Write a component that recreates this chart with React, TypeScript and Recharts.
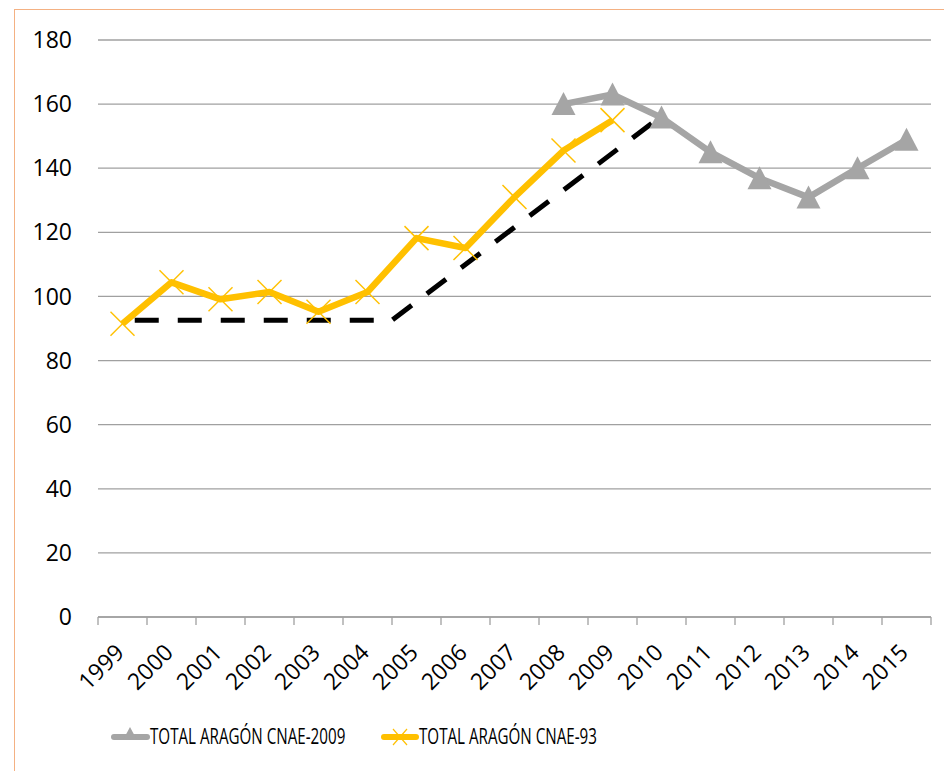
import React from 'react';
import { LineChart, Line, XAxis, YAxis, CartesianGrid, Legend } from 'recharts';

const years = ['1999', '2000', '2001', '2002', '2003', '2004', '2005', '2006', '2007', '2008', '2009', '2010', '2011', '2012', '2013', '2014', '2015'];
const cnae93 = [91.5, 104.4, 99.1, 101.4, 95.2, 101.4, 118.2, 115.1, 131, 145.5, 155, null, null, null, null, null, null];
const cnae2009 = [null, null, null, null, null, null, null, null, null, 160, 163, 155.8, 145, 136.9, 130.9, 140, 148.9];
// hand drawn trend line (x in category units, 0 = left edge of 1999)
const trendX = [0.75, 6, 11.3];
const trendY = [92.6, 92.6, 154];
const yTicks = [0, 20, 40, 60, 80, 100, 120, 140, 160, 180];
const seriesNames = ['TOTAL ARAGÓN CNAE-2009', 'TOTAL ARAGÓN CNAE-93'];

const GRAY = '#A5A5A5';
const GOLD = '#FFC000';
const AXIS = '#A0A0A0';
const W = 944;
const H = 771;
const PLOT_L = 98;
const PLOT_R = 931;
const BAND = (PLOT_R - PLOT_L) / years.length;
const FONT = "'Open Sans', sans-serif";

const data = years.map((y, i) => ({ x: i + 0.5, year: y, cnae93: cnae93[i], cnae2009: cnae2009[i] }));
const trend = trendX.map((x, i) => ({ x, trend: trendY[i] }));
const xTicks = years.map((_, i) => i).concat([years.length]);

const Triangle = (props: any) => {
    const { cx, cy, index } = props;
    if (cx == null || cy == null || props.value == null) return <g key={index} />;
    return <polygon key={index} points={`${cx},${cy - 12} ${cx - 12},${cy + 11} ${cx + 12},${cy + 11}`} fill={GRAY} />;
};

const Cross = (props: any) => {
    const { cx, cy, index } = props;
    if (cx == null || cy == null || props.value == null) return <g key={index} />;
    return (
        <g key={index} stroke={GOLD} strokeWidth={1.5}>
            <line x1={cx - 12} y1={cy - 12} x2={cx + 12} y2={cy + 12} />
            <line x1={cx - 12} y1={cy + 12} x2={cx + 12} y2={cy - 12} />
        </g>
    );
};

const YearTick = (props: any) => {
    const { x, y, payload } = props;
    const label = years[payload.value];
    if (!label) return <g />;
    const tx = x + BAND / 2 + 3;
    const ty = y + 27;
    return (
        <text x={tx} y={ty} textAnchor="end" fill="#000" fontSize={23} fontFamily={FONT}
            transform={`rotate(-45, ${tx}, ${ty})`}>
            {label}
        </text>
    );
};

// excel style legend; Calibri is narrow, so the Open Sans text is squeezed horizontally
const LegendBox = () => (
    <svg width={W} height={44} style={{ display: 'block' }}>
        <line x1={114} y1={30} x2={147} y2={30} stroke={GRAY} strokeWidth={6} strokeLinecap="round" />
        <polygon points="130,20 123,33 137,33" fill={GRAY} />
        <text transform="translate(150,37) scale(0.69,1)" fontSize={22} fontFamily={FONT} fill="#000">
            {seriesNames[0]}
        </text>
        <line x1={384} y1={30} x2={416} y2={30} stroke={GOLD} strokeWidth={6} strokeLinecap="round" />
        <line x1={393} y1={22} x2={407} y2={38} stroke={GOLD} strokeWidth={1.2} />
        <line x1={393} y1={38} x2={407} y2={22} stroke={GOLD} strokeWidth={1.2} />
        <text transform="translate(419,37) scale(0.69,1)" fontSize={22} fontFamily={FONT} fill="#000">
            {seriesNames[1]}
        </text>
    </svg>
);

export default function App() {
    return (
        <div style={{ position: 'absolute', left: 0, top: 0, width: W, height: H, overflow: 'hidden', background: '#fff' }}>
            <div style={{ position: 'absolute', left: 14, top: 9, width: 1200, height: 1200, border: '1.5px solid #F4B183' }} />
            <div style={{ position: 'absolute', left: 0, top: 0 }}>
                <LineChart width={W} height={H} data={data} margin={{ top: 40, right: W - PLOT_R, left: 0, bottom: 20 }}>
                    <CartesianGrid vertical={false} stroke={AXIS} strokeWidth={1.3} />
                    <XAxis
                        dataKey="x"
                        type="number"
                        domain={[0, years.length]}
                        ticks={xTicks}
                        interval={0}
                        height={90}
                        axisLine={{ stroke: AXIS, strokeWidth: 1.3 }}
                        tickLine={{ stroke: AXIS, strokeWidth: 1.3 }}
                        tickSize={8}
                        tickMargin={2}
                        tick={<YearTick />}
                        allowDataOverflow
                    />
                    <YAxis
                        domain={[0, 180]}
                        ticks={yTicks}
                        interval={0}
                        width={PLOT_L}
                        axisLine={false}
                        tickLine={false}
                        tickSize={0}
                        tickMargin={26}
                        tick={{ fill: '#000', fontSize: 23, fontFamily: FONT }}
                    />
                    <Legend verticalAlign="bottom" height={44} content={() => <LegendBox />} />
                    <Line
                        dataKey="cnae2009"
                        name={seriesNames[0]}
                        stroke={GRAY}
                        strokeWidth={6.5}
                        strokeLinejoin="round"
                        dot={<Triangle />}
                        activeDot={false}
                        isAnimationActive={false}
                    />
                    <Line
                        dataKey="cnae93"
                        name={seriesNames[1]}
                        stroke={GOLD}
                        strokeWidth={6.5}
                        strokeLinejoin="round"
                        dot={<Cross />}
                        activeDot={false}
                        isAnimationActive={false}
                    />
                    <Line
                        data={trend}
                        dataKey="trend"
                        stroke="#000"
                        strokeWidth={5}
                        strokeDasharray="24 19"
                        dot={false}
                        activeDot={false}
                        legendType="none"
                        isAnimationActive={false}
                    />
                </LineChart>
            </div>
        </div>
    );
}
